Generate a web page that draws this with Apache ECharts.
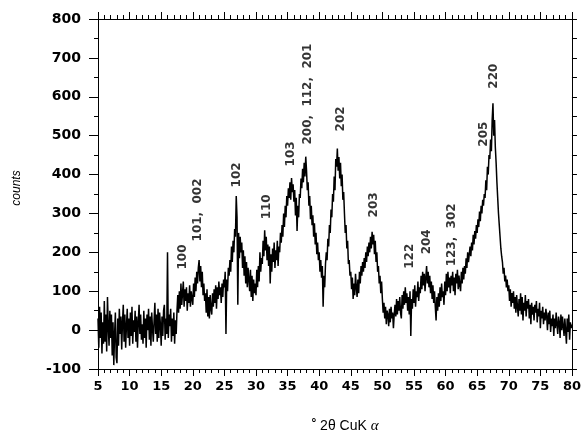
<!DOCTYPE html>
<html><head><meta charset="utf-8">
<script src="https://cdn.jsdelivr.net/npm/echarts@6/dist/echarts.min.js"></script>
<style>html,body{margin:0;padding:0;background:#fff}#c{width:584px;height:433px}</style>
</head><body><div id="c"></div>
<script>
// 2θ sampling: start and step (degrees)
const twoThetaStart = 5;
const twoThetaStep = 0.125;
// counts, 8 per degree from 5 to 80 (one row per degree)
const counts = [
  30, -45, 60, -20, 45, -60, 20, -35,
  75, -30, 40, -55, 85, 10, -40, 50,
  -20, 40, -65, 20, -90, -10, 45, -70,
  -85, 30, -40, 55, -10, 35, -50, 20,
  65, -30, 40, -45, 10, 55, -20, 30,
  -40, 45, -15, 60, -35, 25, -5, 50,
  -30, 35, -45, 20, 65, -10, 40, -25,
  15, -35, 50, -20, 30, -45, 40, 0,
  55, -25, 35, -40, 45, 5, -30, 25,
  70, -10, 40, -30, 55, -20, 45, 15,
  -40, 35, -15, 50, 65, -25, 30, -10,
  200, -20, 40, 10, 55, -30, 30, -15,
  45, -35, 25, -10, 50, 90, 45, 100,
  55, 120, 65, 95, 125, 60, 105, 75,
  110, 50, 95, 70, 115, 60, 100, 80,
  65, 120, 85, 135, 100, 150, 120, 160,
  180, 125, 165, 110, 150, 90, 120, 75,
  95, 45, 105, 35, 85, 30, 90, 55,
  40, 95, 60, 105, 70, 115, 55, 110,
  80, 125, 90, 110, 70, 120, 85, 130,
  110, 150, -10, 130, 100, 160, 140, 180,
  150, 215, 175, 230, 200, 260, 240, 345,
  290, 65, 250, 185, 240, 200, 225, 160,
  205, 140, 190, 120, 175, 110, 160, 130,
  100, 155, 85, 140, 75, 130, 95, 120,
  90, 155, 110, 165, 125, 200, 150, 185,
  170, 230, 190, 257, 205, 240, 180, 220,
  165, 215, 120, 195, 150, 210, 175, 225,
  160, 205, 180, 230, 165, 215, 200, 250,
  225, 270, 240, 300, 265, 320, 290, 345,
  320, 365, 340, 380, 335, 391, 355, 375,
  330, 360, 295, 340, 255, 320, 290, 350,
  340, 390, 365, 415, 380, 430, 395, 446,
  410, 360, 380, 320, 345, 285, 320, 270,
  295, 240, 275, 220, 250, 195, 225, 180,
  200, 150, 180, 135, 165, 60, 140, 110,
  170, 200, 180, 235, 215, 270, 250, 310,
  290, 350, 330, 395, 360, 440, 420, 467,
  410, 445, 390, 430, 370, 400, 335, 355,
  300, 250, 270, 210, 230, 170, 180, 140,
  150, 105, 135, 80, 120, 90, 145, 110,
  85, 130, 95, 150, 120, 165, 140, 175,
  150, 185, 160, 200, 175, 215, 190, 225,
  200, 240, 210, 253, 220, 245, 195, 230,
  175, 200, 150, 165, 120, 140, 95, 125,
  80, 45, 70, 30, 60, 15, 50, 40,
  10, 55, 20, 60, 30, 45, 5, 40,
  65, 35, 80, 40, 75, 50, 85, 45,
  30, 90, 55, 100, 65, 110, 70, 95,
  50, 85, 40, 100, -15, 80, 55, 105,
  70, 115, 60, 100, 85, 125, 75, 110,
  95, 140, 105, 150, 115, 145, 100, 135,
  165, 120, 150, 110, 140, 95, 125, 80,
  115, 70, 100, 60, 25, 85, 50, 95,
  60, 110, 75, 120, 85, 100, 65, 125,
  90, 145, 100, 150, 110, 135, 95, 140,
  115, 150, 100, 135, 90, 145, 120, 155,
  105, 140, 115, 100, 150, 120, 160, 130,
  165, 145, 185, 160, 200, 175, 195, 215,
  190, 225, 205, 245, 220, 255, 235, 270,
  250, 285, 265, 305, 280, 320, 300, 335,
  320, 350, 340, 385, 360, 420, 400, 450,
  440, 490, 460, 540, 583, 500, 540, 470,
  430, 380, 340, 300, 270, 240, 210, 190,
  175, 145, 160, 125, 140, 110, 130, 100,
  115, 75, 105, 60, 95, 70, 100, 55,
  85, 45, 90, 60, 35, 80, 50, 95,
  40, 85, 25, 70, 50, 90, 35, 75,
  55, 80, 30, 65, 15, 70, 40, 60,
  25, 65, 45, 75, 20, 55, 35, 70,
  5, 50, 30, 60, 15, 45, 25, 55,
  35, 0, 45, 15, 50, -5, 30, 10,
  40, -15, 30, 5, 45, 15, -10, 35,
  20, -20, 40, 0, 35, 10, -15, 30,
  25, -35, 30, -5, 40, -25, 20, 5,
  15
];
// reflection labels (hkl), their 2θ and height on the counts scale
const peakLabels = ['100', '101,  002', '102', '110', '103', '200,  112,  201', '202', '203', '122', '204', '123,  302', '205', '220'];
const peakLabelTheta = [18.45, 20.82, 26.91, 31.65, 35.6, 38.15, 43.45, 48.67, 54.37, 57.06, 61.0, 66.08, 67.66];
const peakLabelCounts = [188, 309, 399, 317, 453, 607, 543, 322, 190, 227, 245, 504, 653];
// axis settings
const xMin = 5, xMax = 80, xStep = 5;
const yMin = -100, yMax = 800, yStep = 100;

const lineData = counts.map((v, i) => [twoThetaStart + i * twoThetaStep, v]);
const labelData = peakLabels.map((t, i) => [peakLabelTheta[i], peakLabelCounts[i], t]);

const black = '#000';
const tickFont = { color: black, fontFamily: 'DejaVu Sans', fontWeight: 'bold', fontSize: 13 };

const chart = echarts.init(document.getElementById('c'), null, { renderer: 'canvas' });
chart.setOption({
  animation: false,
  backgroundColor: '#fff',
  grid: { left: 98, right: 12, top: 19, bottom: 64 },
  xAxis: [
    {
      type: 'value', position: 'bottom', min: xMin, max: xMax, interval: xStep,
      axisLine: { show: true, onZero: false, lineStyle: { color: black, width: 1 } },
      axisTick: { show: true, inside: false, length: 7, lineStyle: { color: black } },
      minorTick: { show: true, splitNumber: 5, length: 4, lineStyle: { color: black } },
      axisLabel: Object.assign({ margin: 11 }, tickFont),
      splitLine: { show: false }
    },
    {
      type: 'value', position: 'top', min: xMin, max: xMax, interval: xStep,
      axisLine: { show: true, onZero: false, lineStyle: { color: black, width: 1 } },
      axisTick: { show: true, inside: false, length: 7, lineStyle: { color: black } },
      minorTick: { show: true, splitNumber: 5, length: 4, lineStyle: { color: black } },
      axisLabel: { show: false },
      splitLine: { show: false }
    }
  ],
  yAxis: [
    {
      type: 'value', position: 'left', min: yMin, max: yMax, interval: yStep,
      axisLine: { show: true, onZero: false, lineStyle: { color: black, width: 1 } },
      axisTick: { show: true, inside: false, length: 9, lineStyle: { color: black } },
      minorTick: { show: true, splitNumber: 2, length: 4, lineStyle: { color: black } },
      axisLabel: Object.assign({ margin: 17 }, tickFont, { fontSize: 14 }),
      splitLine: { show: false }
    },
    {
      type: 'value', position: 'right', min: yMin, max: yMax, interval: yStep / 2,
      axisLine: { show: true, onZero: false, lineStyle: { color: black, width: 1 } },
      axisTick: { show: true, inside: false, length: 5, lineStyle: { color: black } },
      axisLabel: { show: false },
      splitLine: { show: false }
    }
  ],
  series: [
    {
      type: 'line', xAxisIndex: 0, yAxisIndex: 0, data: lineData,
      showSymbol: false, symbol: 'none',
      lineStyle: { color: black, width: 1.5 },
      z: 2
    },
    {
      type: 'scatter', xAxisIndex: 0, yAxisIndex: 0, data: labelData,
      symbolSize: 1, itemStyle: { color: 'rgba(0,0,0,0)' },
      label: {
        show: true, position: 'inside', rotate: 90,
        formatter: p => p.data[2],
        color: black, fontFamily: 'DejaVu Sans', fontWeight: 'bold', fontSize: 12
      },
      z: 3
    }
  ],
  graphic: [
    {
      type: 'text', x: 17, y: 188, rotation: Math.PI / 2,
      style: { text: 'counts', fill: black, font: 'italic 12px "Liberation Sans"', textAlign: 'center', textVerticalAlign: 'middle' }
    },
    {
      type: 'text', x: 345, y: 426,
      style: {
        text: '{d|°}{n| 2θ CuK }{a|α}', fill: black, textAlign: 'center', textVerticalAlign: 'middle',
        rich: {
          d: { fontFamily: 'Liberation Sans', fontSize: 12, fontWeight: 'bold', verticalAlign: 'top', padding: [0, 0, 5, 0] },
          n: { fontFamily: 'Liberation Sans', fontSize: 14 },
          a: { fontFamily: 'Liberation Serif', fontStyle: 'italic', fontSize: 15 }
        }
      }
    }
  ]
});
</script>
</body></html>
